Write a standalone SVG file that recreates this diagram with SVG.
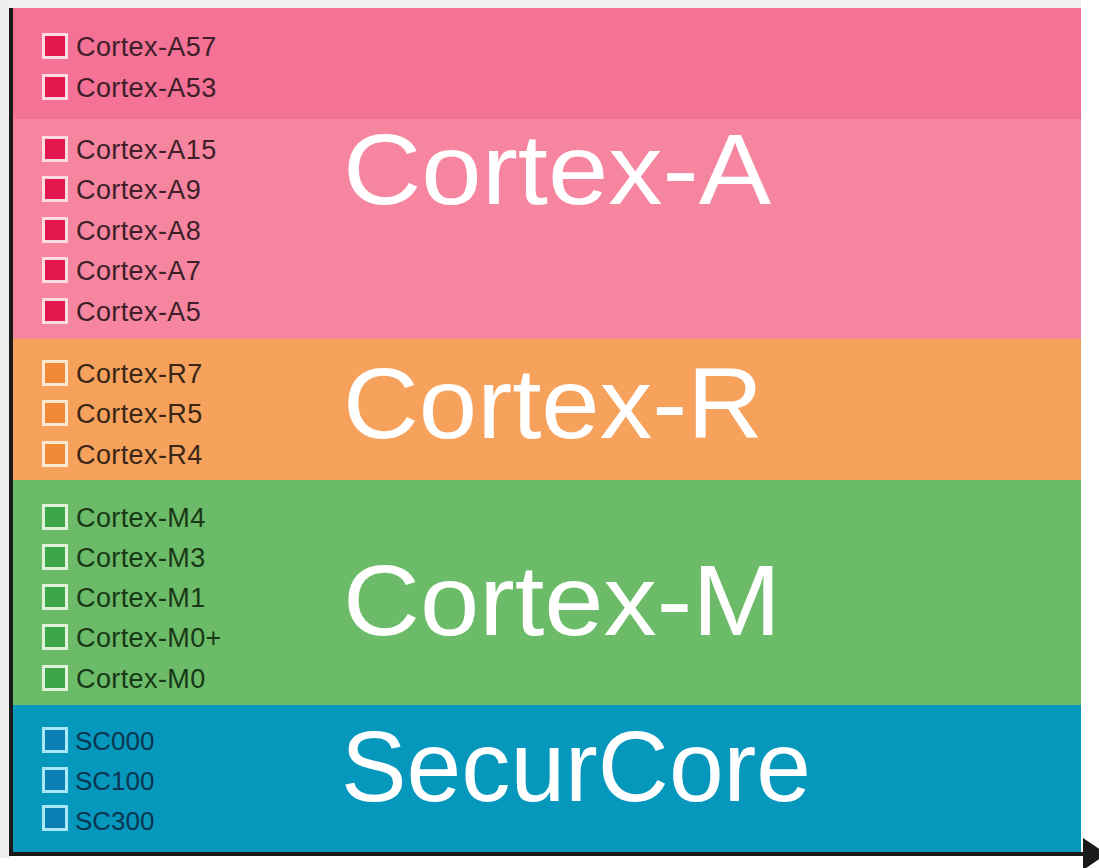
<svg xmlns="http://www.w3.org/2000/svg" width="1099" height="868" viewBox="0 0 1099 868">
<style>
.lbl{font-family:"Liberation Sans",Arial,sans-serif;font-size:27px;letter-spacing:0.4px}
.bl .lbl{font-size:26px;letter-spacing:0}
.big{font-family:"Liberation Sans",Arial,sans-serif;font-size:100px;fill:#ffffff}
.sq{stroke-width:3}
.pk .sq{fill:#e3174e;stroke:#fcdbe3}
.pk .lbl{fill:#3e1e28}
.or .sq{fill:#f08a36;stroke:#fde9d2}
.or .lbl{fill:#3a2616}
.gr .sq{fill:#3da646;stroke:#e0f1dc}
.gr .lbl{fill:#173816}
.bl .sq{fill:#0a7fb4;stroke:#a9e7f6}
.bl .lbl{fill:#0c3550}
</style>
<defs>
<marker id="ah" viewBox="0 0 10 10" refX="0" refY="5" markerWidth="6" markerHeight="8" markerUnits="strokeWidth" orient="auto" preserveAspectRatio="none">
<path d="M0,0 L10,5 L0,10 Z" fill="#1a1a1a"/>
</marker>
</defs>
<rect x="0" y="0" width="1099" height="868" fill="#ffffff"/>
<rect x="0" y="0" width="1081" height="8" fill="#f0f0f0"/>
<rect x="0" y="0" width="10" height="858" fill="#efefef"/>

<g id="band-a-64">
<rect x="12" y="8" width="1069" height="111" fill="#f37295"/>
<g class="pk">
<rect class="sq" x="43.5" y="34.5" width="23" height="23"/><text class="lbl" x="76" y="56">Cortex-A57</text>
<rect class="sq" x="43.5" y="75.5" width="23" height="23"/><text class="lbl" x="76" y="97">Cortex-A53</text>
</g>
</g>

<g id="band-cortex-a">
<rect x="12" y="119" width="1069" height="220" fill="#f6869f"/>
<g class="pk">
<rect class="sq" x="43.5" y="137.5" width="23" height="23"/><text class="lbl" x="76" y="159">Cortex-A15</text>
<rect class="sq" x="43.5" y="177.5" width="23" height="23"/><text class="lbl" x="76" y="199">Cortex-A9</text>
<rect class="sq" x="43.5" y="218.5" width="23" height="23"/><text class="lbl" x="76" y="240">Cortex-A8</text>
<rect class="sq" x="43.5" y="258.5" width="23" height="23"/><text class="lbl" x="76" y="280">Cortex-A7</text>
<rect class="sq" x="43.5" y="299.5" width="23" height="23"/><text class="lbl" x="76" y="321">Cortex-A5</text>
</g>
<text class="big" x="343" y="204" textLength="428" lengthAdjust="spacingAndGlyphs">Cortex-A</text>
</g>

<g id="band-cortex-r">
<rect x="12" y="339" width="1069" height="141" fill="#f6a25c"/>
<g class="or">
<rect class="sq" x="43.5" y="361.5" width="23" height="23"/><text class="lbl" x="76" y="383">Cortex-R7</text>
<rect class="sq" x="43.5" y="401.5" width="23" height="23"/><text class="lbl" x="76" y="423">Cortex-R5</text>
<rect class="sq" x="43.5" y="442.5" width="23" height="23"/><text class="lbl" x="76" y="464">Cortex-R4</text>
</g>
<text class="big" x="343" y="438" textLength="420" lengthAdjust="spacingAndGlyphs">Cortex-R</text>
</g>

<g id="band-cortex-m">
<rect x="12" y="480" width="1069" height="225" fill="#6bbb68"/>
<g class="gr">
<rect class="sq" x="43.5" y="505.5" width="23" height="23"/><text class="lbl" x="76" y="527">Cortex-M4</text>
<rect class="sq" x="43.5" y="545.5" width="23" height="23"/><text class="lbl" x="76" y="567">Cortex-M3</text>
<rect class="sq" x="43.5" y="585.5" width="23" height="23"/><text class="lbl" x="76" y="607">Cortex-M1</text>
<rect class="sq" x="43.5" y="625.5" width="23" height="23"/><text class="lbl" x="76" y="647">Cortex-M0+</text>
<rect class="sq" x="43.5" y="666.5" width="23" height="23"/><text class="lbl" x="76" y="688">Cortex-M0</text>
</g>
<text class="big" x="343" y="635" textLength="438" lengthAdjust="spacingAndGlyphs">Cortex-M</text>
</g>

<g id="band-securcore">
<rect x="12" y="705" width="1069" height="150" fill="#0697bd"/>
<g class="bl">
<rect class="sq" x="43.5" y="728.5" width="23" height="23"/><text class="lbl" x="75" y="750">SC000</text>
<rect class="sq" x="43.5" y="768.5" width="23" height="23"/><text class="lbl" x="75" y="790">SC100</text>
<rect class="sq" x="43.5" y="806.5" width="23" height="23"/><text class="lbl" x="75" y="830">SC300</text>
</g>
<text class="big" x="341" y="801" textLength="470" lengthAdjust="spacingAndGlyphs">SecurCore</text>
</g>

<g id="connectors">
<line x1="11" y1="8" x2="11" y2="856" stroke="#1a1a1a" stroke-width="4"/>
<line x1="9" y1="854" x2="1083" y2="854" stroke="#1a1a1a" stroke-width="4" marker-end="url(#ah)"/>
</g>
</svg>
